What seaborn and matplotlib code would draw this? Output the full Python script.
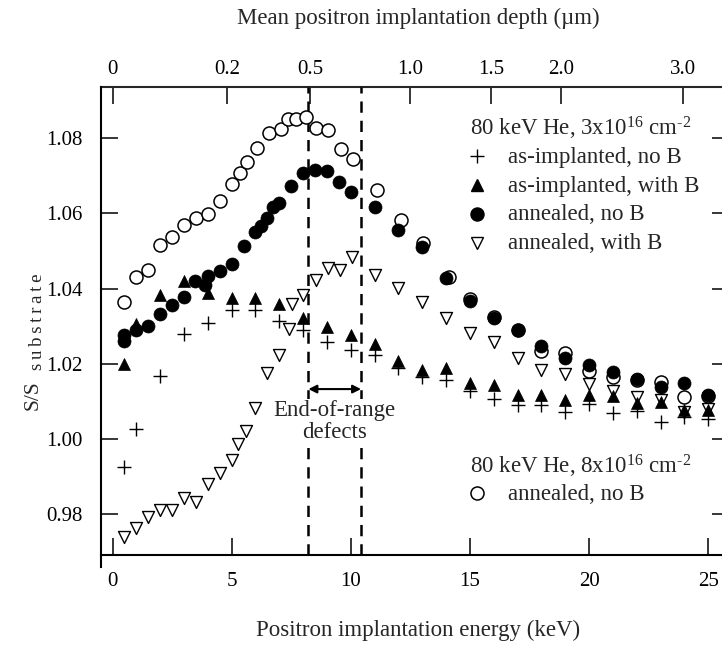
import numpy as np
import matplotlib
matplotlib.use("Agg")
import matplotlib.pyplot as plt
import seaborn as sns

# ---------------- data ----------------
# 80 keV He, 8x10^16 cm^-2, annealed, no B  (open circles)
e_ann8_noB = [0.5, 1.0, 1.5, 2.0, 2.5, 3.0, 3.5, 4.0, 4.5, 5.0, 5.35, 5.65, 6.05, 6.55,
              7.05, 7.35, 7.7, 8.1, 8.55, 9.05, 9.6, 10.1, 11.1, 12.1, 13.05, 14.1,
              15, 16, 17, 18, 19, 20, 21, 22, 23, 24, 25]
s_ann8_noB = [1.0365, 1.0432, 1.0450, 1.0516, 1.0537, 1.0569, 1.0587, 1.0599, 1.0633, 1.0678,
              1.0707, 1.0738, 1.0773, 1.0813, 1.0825, 1.0851, 1.0851, 1.0857, 1.0827, 1.0822,
              1.0771, 1.0744, 1.0663, 1.0583, 1.0521, 1.0432, 1.0372, 1.0325, 1.0290, 1.0234,
              1.0229, 1.0182, 1.0164, 1.0156, 1.0152, 1.0112, 1.0115]

# 80 keV He, 3x10^16 cm^-2, annealed, with B  (open down triangles)
e_ann_B = [0.5, 1, 1.5, 2, 2.5, 3, 3.5, 4, 4.5, 5, 5.25, 5.6, 6, 6.5, 7, 7.4, 7.55, 8,
           8.55, 9.05, 9.55, 10.05, 11, 12, 13, 14, 15, 16, 17, 18, 19, 20, 21, 22, 23, 24, 25]
s_ann_B = [0.9740, 0.9764, 0.9794, 0.9812, 0.9812, 0.9843, 0.9834, 0.9880, 0.9910, 0.9944,
           0.9987, 1.0022, 1.0082, 1.0176, 1.0224, 1.0293, 1.0359, 1.0383, 1.0423, 1.0455,
           1.0450, 1.0485, 1.0436, 1.0403, 1.0365, 1.0321, 1.0281, 1.0257, 1.0215, 1.0185,
           1.0173, 1.0146, 1.0128, 1.0113, 1.0104, 1.0073, 1.0080]

# as-implanted, no B (plus)
e_imp_noB = [0.5, 1, 2, 3, 4, 5, 6, 7, 8, 9, 10, 11, 12, 13, 14, 15, 16, 17, 18, 19, 20,
             21, 22, 23, 24, 25]
s_imp_noB = [0.9926, 1.0027, 1.0168, 1.0280, 1.0308, 1.0343, 1.0343, 1.0315, 1.0290, 1.0259,
             1.0237, 1.0224, 1.0188, 1.0166, 1.0157, 1.0128, 1.0107, 1.0090, 1.0090, 1.0073,
             1.0093, 1.0069, 1.0075, 1.0045, 1.0058, 1.0053]

# as-implanted, with B (filled up triangles)
e_imp_B = [0.5, 1, 2, 3, 4, 5, 6, 7, 8, 9, 10, 11, 12, 13, 14, 15, 16, 17, 18, 19, 20,
           21, 22, 23, 24, 25]
s_imp_B = [1.0200, 1.0305, 1.0382, 1.0421, 1.0388, 1.0374, 1.0374, 1.0358, 1.0322, 1.0298,
           1.0278, 1.0253, 1.0209, 1.0183, 1.0190, 1.0150, 1.0145, 1.0116, 1.0116, 1.0103,
           1.0117, 1.0114, 1.0095, 1.0099, 1.0077, 1.0077]

# annealed, no B (filled circles)
e_ann_noB = [0.5, 0.5, 1.0, 1.5, 2.0, 2.5, 3.0, 3.45, 3.9, 4.0, 4.5, 5.0, 5.5, 6.0, 6.25,
             6.5, 6.75, 7.0, 7.5, 8.0, 8.5, 9.0, 9.5, 10.0, 11, 12, 13, 14, 15, 16, 17,
             18, 19, 20, 21, 22, 23, 24, 25]
s_ann_noB = [1.0277, 1.0261, 1.0290, 1.0302, 1.0333, 1.0357, 1.0377, 1.0421, 1.0410, 1.0433,
             1.0448, 1.0465, 1.0514, 1.0552, 1.0567, 1.0589, 1.0616, 1.0627, 1.0673, 1.0708,
             1.0716, 1.0714, 1.0685, 1.0658, 1.0616, 1.0556, 1.0512, 1.0428, 1.0368, 1.0321,
             1.0289, 1.0248, 1.0215, 1.0197, 1.0179, 1.0161, 1.0139, 1.0148, 1.0118]

# axis ticks / labels
x_ticks = [0, 5, 10, 15, 20, 25]
y_ticks = [0.98, 1.00, 1.02, 1.04, 1.06, 1.08]
depth_ticks = [0, 0.2, 0.5, 1.0, 1.5, 2.0, 3.0]
depth_labels = ["0", "0.2", "0.5", "1.0", "1.5", "2.0", "3.0"]

# end-of-range defect region (keV)
eor_left, eor_right = 8.22, 10.43

legend1_title = r"80 keV He, 3x10$^{16}$ cm$^{\text{-2}}$"
legend1_labels = ["as-implanted, no B", "as-implanted, with B", "annealed, no B", "annealed, with B"]
legend2_title = r"80 keV He, 8x10$^{16}$ cm$^{\text{-2}}$"
legend2_labels = ["annealed, no B"]

# depth = A * E^n  (mean positron implantation depth in um)
DEPTH_A, DEPTH_N = 0.014, 1.69

# ---------------- style ----------------
sns.set_style("ticks")
plt.rcParams["font.family"] = ["Liberation Serif", "DejaVu Serif"]
plt.rcParams["mathtext.fontset"] = "custom"
plt.rcParams["mathtext.rm"] = "Liberation Serif"
plt.rcParams["mathtext.it"] = "Liberation Serif:italic"
plt.rcParams["mathtext.bf"] = "Liberation Serif:bold"
FS_TICK = 15
FS_LAB = 16.5
FS_LEG = 16.5

fig = plt.figure(figsize=(7.22, 6.5), dpi=100)
ax = fig.add_axes([101 / 722, 1 - 567 / 650, 628 / 722, 480 / 650])

XLIM = (-0.483, 25.87)
YLIM = (0.96598, 1.09364)
X_AXIS_Y = 0.96918

# ---------------- series ----------------
MS_C, MS_T, MS_P = 88, 74, 90
sns.scatterplot(x=e_ann8_noB, y=s_ann8_noB, marker="o", s=MS_C, facecolor="white",
                edgecolor="black", linewidth=1.1, ax=ax, zorder=2, legend=False)
sns.scatterplot(x=e_ann_B, y=s_ann_B, marker="v", s=MS_T, facecolor="white",
                edgecolor="black", linewidth=1.0, ax=ax, zorder=3, legend=False)
sns.scatterplot(x=e_imp_noB, y=s_imp_noB, marker="+", s=MS_P, color="black",
                linewidth=1.0, ax=ax, zorder=4, legend=False)
sns.scatterplot(x=e_imp_B, y=s_imp_B, marker="^", s=MS_T, facecolor="black",
                edgecolor="black", linewidth=0.5, ax=ax, zorder=5, legend=False)
sns.scatterplot(x=e_ann_noB, y=s_ann_noB, marker="o", s=MS_C, facecolor="black",
                edgecolor="black", linewidth=0.5, ax=ax, zorder=6, legend=False)

# ---------------- end-of-range annotation ----------------
ybot_frac = (X_AXIS_Y - YLIM[0]) / (YLIM[1] - YLIM[0])
for xe in (eor_left, eor_right):
    ax.axvline(xe, ymin=ybot_frac, ymax=1, color="black", lw=1.8,
               dashes=(4.5, 3.2), zorder=1)
ax.annotate("", xy=(eor_right, 1.0133), xytext=(eor_left, 1.0133),
            arrowprops=dict(arrowstyle="<|-|>", color="black", lw=1.5,
                            mutation_scale=12, shrinkA=0, shrinkB=0), zorder=7)
ax.text((eor_left + eor_right) / 2, 1.0047, "End-of-range\ndefects", ha="center",
        va="center", fontsize=FS_LEG, linespacing=1.05, zorder=7,
        bbox=dict(facecolor="white", edgecolor="none", pad=1.0))

# ---------------- axes ----------------
ax.set_xlim(*XLIM)
ax.set_ylim(*YLIM)
ax.set_xticks(x_ticks)
ax.set_xticklabels([str(t) for t in x_ticks])
ax.set_yticks(y_ticks)
ax.set_yticklabels([f"{t:.2f}" for t in y_ticks])
ax.spines["bottom"].set_position(("data", X_AXIS_Y))
ax.spines["top"].set_visible(False)
for sp in ("left", "right", "bottom"):
    ax.spines[sp].set_linewidth(1.5)
    ax.spines[sp].set_color("black")
ax.tick_params(axis="x", direction="in", length=12, width=1.1, pad=12.5,
               labelsize=FS_TICK, colors="black", top=False, bottom=True)
ax.tick_params(axis="y", direction="in", length=12, width=1.1, pad=13,
               labelsize=FS_TICK, colors="black", left=True, right=True)


def e_to_depth(e):
    e = np.asarray(e, dtype=float)
    return np.sign(e) * DEPTH_A * np.abs(e) ** DEPTH_N


def depth_to_e(d):
    d = np.asarray(d, dtype=float)
    return np.sign(d) * (np.abs(d) / DEPTH_A) ** (1.0 / DEPTH_N)


sec = ax.secondary_xaxis("top", functions=(e_to_depth, depth_to_e))
sec.set_xticks(depth_ticks, labels=depth_labels)
sec.tick_params(direction="in", length=12, width=1.1, pad=6, labelsize=FS_TICK, colors="black")
sec.spines["top"].set_linewidth(1.5)

# y label: "S/S" with a long subscript "substrate"
fig.text(33 / 722, 1 - 395 / 650, "S/S", rotation=90, ha="center", va="center",
         fontsize=15.5)
fig.text(38 / 722, 1 - 322 / 650, "\u2009".join("substrate"), rotation=90,
         ha="center", va="center", fontsize=13.5)

fig.text(418 / 722, 1 - 630 / 650, "Positron implantation energy (keV)",
         ha="center", va="center", fontsize=FS_LAB)
fig.text(418 / 722, 1 - 18 / 650, "Mean positron implantation depth (\u00b5m)",
         ha="center", va="center", fontsize=FS_LAB)

# ---------------- legends (drawn manually) ----------------
tr = ax.transAxes
ax.text(0.5876, 0.900, legend1_title, transform=tr, fontsize=FS_LEG, va="baseline", ha="left")
leg_markers = [("+", "black", "black"), ("^", "black", "black"),
               ("o", "black", "black"), ("v", "white", "black")]
leg_sizes = [9.5, 8.6, 9.4, 8.6]
base_y = [0.8423, 0.7819, 0.7219, 0.6615]
for (m, fc, ec), ms, lab, by in zip(leg_markers, leg_sizes, legend1_labels, base_y):
    ax.plot([0.598], [by + 0.0135], marker=m, ms=ms, mfc=fc, mec=ec, mew=1.0,
            color="black", ls="none", transform=tr, clip_on=False)
    ax.text(0.648, by, lab, transform=tr, fontsize=FS_LEG, va="baseline", ha="left")

ax.text(0.5876, 0.1952, legend2_title, transform=tr, fontsize=FS_LEG, va="baseline", ha="left")
ax.plot([0.598], [0.1535], marker="o", ms=9.4, mfc="white", mec="black", mew=1.1,
        ls="none", transform=tr, clip_on=False)
ax.text(0.648, 0.1396, legend2_labels[0], transform=tr, fontsize=FS_LEG, va="baseline", ha="left")

fig.savefig("out.png", dpi=100)
